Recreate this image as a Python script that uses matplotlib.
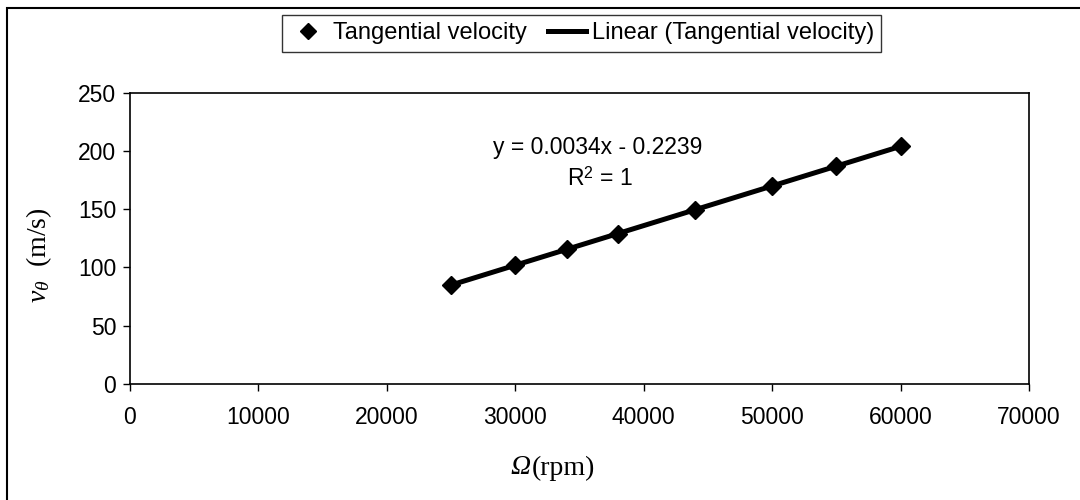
import numpy as np
import matplotlib
matplotlib.use("Agg")
from matplotlib import pyplot as plt
from matplotlib.lines import Line2D
from matplotlib.patches import Rectangle

# Data
speed_rpm = [25000, 30000, 34000, 38000, 44000, 50000, 55000, 60000]
tang_vel = [85, 102, 115.5, 129, 149.5, 170, 187, 204]
x_ticks = [0, 10000, 20000, 30000, 40000, 50000, 60000, 70000]
y_ticks = [0, 50, 100, 150, 200, 250]
eq_text = "y = 0.0034x - 0.2239"
r2_text = r"R$^{\mathsf{2}}$ = 1"

plt.rcParams['font.family'] = ['Liberation Sans', 'DejaVu Sans']
plt.rcParams['mathtext.fontset'] = 'custom'
plt.rcParams['mathtext.rm'] = 'Liberation Serif'
plt.rcParams['mathtext.it'] = 'Liberation Serif:italic'
plt.rcParams['mathtext.sf'] = 'Liberation Sans'

W, H = 1080, 500
fig = plt.figure(figsize=(W / 100, H / 100), dpi=100)

# plot area in pixels: left 130, right 1029, top 92.7, bottom 384
ax = fig.add_axes([130 / W, 1 - 384 / H, (1029 - 130) / W, (384 - 92.7) / H])

# linear trendline from the data
coef = np.polyfit(speed_rpm, tang_vel, 1)
xfit = np.array([speed_rpm[0], speed_rpm[-1]])
ax.plot(xfit, np.polyval(coef, xfit), color='black', lw=3.6, solid_capstyle='butt', zorder=2)
ax.plot(speed_rpm, tang_vel, linestyle='none', marker='D', markersize=9,
        color='black', zorder=3)

ax.set_xlim(0, 70000)
ax.set_ylim(0, 250)
ax.set_xticks(x_ticks)
ax.set_yticks(y_ticks)
ax.tick_params(axis='both', direction='out', length=5, width=1, labelsize=16.5, colors='black')
ax.tick_params(axis='x', pad=11)
ax.tick_params(axis='y', pad=5)
for sp in ax.spines.values():
    sp.set_linewidth(1.2)
    sp.set_color('black')

ax.text(36450, 203, eq_text, ha='center', va='center', fontsize=16.5)
ax.text(36600, 176, r2_text, ha='center', va='center', fontsize=16.5)

# axis titles
fig.text(39 / W, 1 - 255 / H, r'$v_{\theta}$  (m/s)', rotation=90, ha='center', va='center',
         fontsize=20, family='Liberation Serif')
fig.text(531 / W, 1 - 468 / H, 'Ω', style='italic', ha='right', va='center',
         fontsize=20, family='Liberation Serif')
fig.text(532 / W, 1 - 468 / H, '(rpm)', ha='left', va='center',
         fontsize=20, family='Liberation Serif')

# legend
handles = [
    Line2D([], [], linestyle='none', marker='D', markersize=8, color='black'),
    Line2D([], [], color='black', lw=3.6),
]
labels = ['Tangential velocity', 'Linear (Tangential velocity)']
leg = fig.legend(handles, labels, ncol=2, loc='center',
                 bbox_to_anchor=(581.5 / W, 1 - 33.5 / H), fontsize=17,
                 frameon=True, fancybox=False, edgecolor='black',
                 handlelength=1.6, handletextpad=0.25, columnspacing=0.9,
                 borderpad=0.3, borderaxespad=0)
leg.get_frame().set_linewidth(1.0)

# outer chart frame (only left and top edges visible in the reference)
fig.patches.append(Rectangle((7 / W, -0.5), 2, 1 - 8 / H + 0.5, transform=fig.transFigure,
                             fill=False, edgecolor='black', lw=1.5))

fig.savefig('out.png', dpi=100)
